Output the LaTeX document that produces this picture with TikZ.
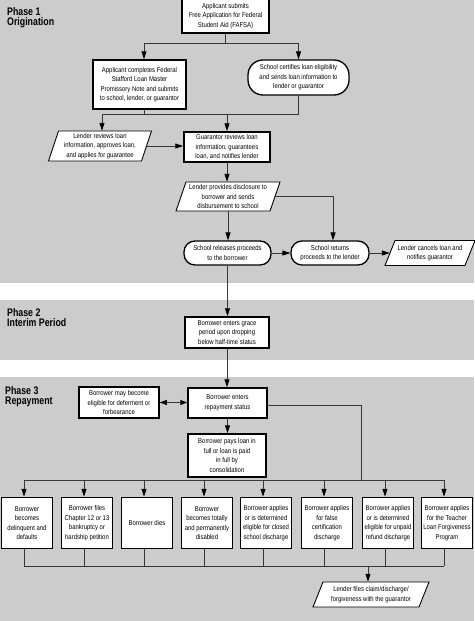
\documentclass[tikz,border=0pt]{standalone}
\usepackage{fontspec}
\setmainfont[FakeStretch=0.85]{Liberation Sans}
\newfontfamily\phasefont[FakeStretch=0.8]{Liberation Sans}
\usetikzlibrary{arrows.meta,calc}
\definecolor{bandgrey}{RGB}{204,204,204}
\definecolor{linegrey}{RGB}{55,55,55}
\newcommand\parnode[6]{%
  \draw[parashape] ({#2-#4/2+5},{#3-#5/2}) -- ({#2+#4/2+5},{#3-#5/2}) -- ({#2+#4/2-5},{#3+#5/2}) -- ({#2-#4/2-5},{#3+#5/2}) -- cycle;
  \node[txt, minimum width=#4pt, minimum height=#5pt] (#1) at (#2,#3) {#6};
}
\begin{document}
\begin{tikzpicture}[x=1pt,y=-1pt,
  txt/.style={font=\fontsize{7}{9.5}\selectfont, align=center, inner sep=0pt},
  box/.style={txt, draw=black, line width=1.5pt, fill=white},
  roundbox/.style={txt, draw=black, line width=1.3pt, fill=white, rounded corners=#1},
  parashape/.style={draw=black, line width=0.9pt, fill=white},
  phase/.style={font=\phasefont\bfseries\fontsize{11}{10.5}\selectfont, align=left, inner sep=0pt, anchor=north west},
  conn/.style={draw=linegrey, line width=0.9pt},
  arr/.style={conn, -{Triangle[length=8pt,width=5pt,color=black]}},
  dbl/.style={conn, {Triangle[length=7pt,width=5pt,color=black]}-{Triangle[length=7pt,width=5pt,color=black]}}
]
\useasboundingbox (0,0) rectangle (474,621);
\fill[white] (0,0) rectangle (474,621);
\fill[bandgrey] (0,0) rectangle (474,283);
\fill[bandgrey] (0,300) rectangle (474,360);
\fill[bandgrey] (0,377) rectangle (474,621);

% phase labels
\node[phase] (p1) at (7,7) {Phase 1\\Origination};
\node[phase] (p2) at (7,308) {Phase 2\\Interim Period};
\node[phase] (p3) at (5,386) {Phase 3\\Repayment};

% phase 1
\node[box, minimum width=87pt, minimum height=34pt] (n1) at (225.5,16) {Applicant submits\\Free Application for Federal\\Student Aid (FAFSA)};
\node[box, minimum width=93pt, minimum height=49pt] (n2) at (139.5,84.5) {Applicant completes Federal\\Stafford Loan Master\\Promissory Note and submits\\to school, lender, or guarantor};
\node[roundbox=15pt, minimum width=101pt, minimum height=35pt] (n3) at (298.5,77.5) {School certifies loan eligibility\\and sends loan information to\\lender or guarantor};
\parnode{n4}{100}{146}{93}{30}{Lender reviews loan\\information, approves loan,\\and applies for guarantee}
\node[box, minimum width=86pt, minimum height=30pt] (n5) at (227,147) {Guarantor reviews loan\\information, guarantees\\loan, and notifies lender};
\parnode{n6}{228}{196.5}{94}{29}{Lender provides disclosure to\\borrower and sends\\disbursement to school}
\node[roundbox=11pt, minimum width=87pt, minimum height=24pt] (n7) at (227.5,253) {School releases proceeds\\to the borrower};
\node[roundbox=11pt, minimum width=78pt, minimum height=24pt] (n8) at (330,253) {School returns\\proceeds to the lender};
\parnode{n9}{430}{253}{80}{25}{Lender cancels loan and\\notifies guarantor}

% phase 2
\node[box, minimum width=84pt, minimum height=31pt] (n10) at (227,332.5) {Borrower enters grace\\period upon dropping\\below half-time status};

% phase 3
\node[box, minimum width=79pt, minimum height=30pt] (n11) at (227.5,403) {Borrower enters\\repayment status};
\node[box, minimum width=80pt, minimum height=31pt] (n12) at (119,402.5) {Borrower may become\\eligible for deferment or\\forbearance};
\node[box, minimum width=78pt, minimum height=43pt] (n13) at (227,455.5) {Borrower pays loan in\\full or loan is paid\\in full by\\consolidation};

\node[box, minimum width=51pt, minimum height=51pt] (b1) at (27,523) {Borrower\\becomes\\delinquent and\\defaults};
\node[box, minimum width=51pt, minimum height=51pt] (b2) at (87,523) {Borrower files\\Chapter 12 or 13\\bankruptcy or\\hardship petition};
\node[box, minimum width=51pt, minimum height=51pt] (b3) at (147,523) {Borrower dies};
\node[box, minimum width=51pt, minimum height=51pt] (b4) at (207,523) {Borrower\\becomes totally\\and permanently\\disabled};
\node[box, minimum width=51pt, minimum height=51pt] (b5) at (266,523) {Borrower applies\\or is determined\\eligible for closed\\school discharge};
\node[box, minimum width=51pt, minimum height=51pt] (b6) at (327,523) {Borrower applies\\for false\\certification\\discharge};
\node[box, minimum width=51pt, minimum height=51pt] (b7) at (388,523) {Borrower applies\\or is determined\\eligible for unpaid\\refund discharge};
\node[box, minimum width=51pt, minimum height=51pt] (b8) at (447,523) {Borrower applies\\for the Teacher\\Loan Forgiveness\\Program};
\parnode{fin}{371}{594.5}{106}{25}{Lender files claim/discharge/\\forgiveness with the guarantor}

% connectors phase 1
\coordinate (j1) at (225.5,43);
\draw[conn] (n1.south) -- (j1);
\draw[arr] (j1) -| ([xshift=4.5pt]n2.north);
\draw[arr] (j1) -| (n3.north);
\coordinate (j2) at (144,114);
\draw[conn] ([xshift=4.5pt]n2.south) -- (j2);
\draw[conn] (n3.south) |- (j2);
\draw[arr] (j2) -| ([xshift=2pt]n4.north);
\coordinate (j3) at (227,114);
\draw[arr] (j3) -- (n5.north);
\draw[arr] (n4.east) -- (n4.east -| n5.west);
\draw[arr] (n5.south) -- (n5.south |- n6.north);
\draw[arr] (n6.east) -| ([xshift=3pt]n8.north);
\draw[arr] (n6.south) -- (n6.south |- n7.north);
\draw[arr] (n7.east) -- (n7.east -| n8.west);
\draw[arr] (n8.east) -- (n8.east -| n9.west);
\draw[arr] (n7.south) -- (n7.south |- n10.north);
% phase 2/3
\draw[arr] (n10.south) -- (n10.south |- n11.north);
\draw[dbl] (n12.east) -- (n12.east -| n11.west);
\draw[arr] (n11.south) -- (n11.south |- n13.north);
\coordinate (bus3) at (361,480);
\draw[conn] ([yshift=-2pt]n11.east) -| (bus3);
\foreach \k in {1,...,8}{
  \coordinate (t\k) at ([xshift=-3pt]b\k.north);
  \coordinate (s\k) at ([xshift=-3pt]b\k.south);
}
\draw[conn] (t1 |- bus3) -- (t8 |- bus3);
\foreach \k in {1,...,8}{
  \draw[arr] (t\k |- bus3) -- (t\k);
}
\coordinate (bus4) at (368,566);
\foreach \k in {1,...,8}{
  \draw[conn] (s\k) -- (s\k |- bus4);
}
\draw[conn] (s1 |- bus4) -- (s8 |- bus4);
\draw[arr] (bus4) -- ([xshift=-3pt]fin.north);
\end{tikzpicture}
\end{document}
